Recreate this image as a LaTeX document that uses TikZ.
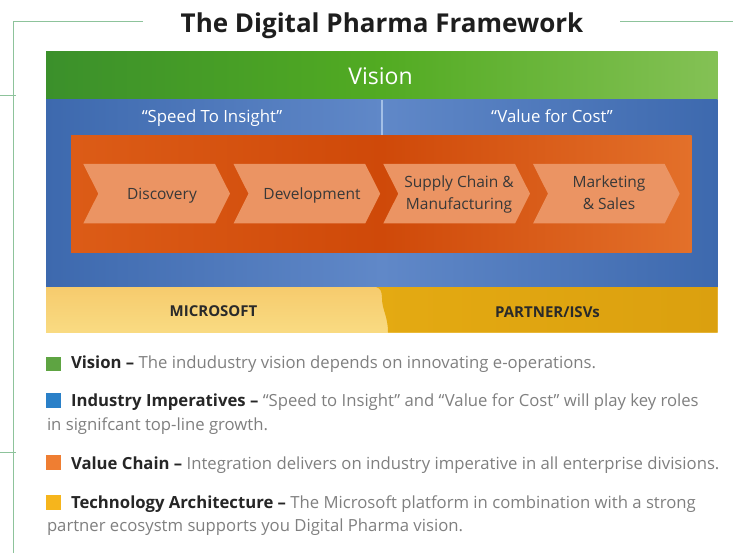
\documentclass[tikz,border=0pt]{standalone}
\usepackage{fontspec}
\setmainfont{Open Sans}
\usetikzlibrary{calc}

% palette
\definecolor{frameline}{HTML}{8DC39B}
\definecolor{titleink}{HTML}{1E1E1E}
\definecolor{greenL}{HTML}{3B902B}
\definecolor{greenM}{HTML}{52AB22}
\definecolor{greenR}{HTML}{84C155}
\definecolor{blueE}{HTML}{3D69AE}
\definecolor{blueM}{HTML}{6088C8}
\definecolor{divider}{HTML}{A3BFE6}
\definecolor{orangeL}{HTML}{DC5C17}
\definecolor{orangeM}{HTML}{CF4909}
\definecolor{orangeR}{HTML}{E3702A}
\definecolor{chevfill}{HTML}{EB9463}
\definecolor{chevink}{HTML}{383838}
\definecolor{yellowT}{HTML}{F6CB6D}
\definecolor{yellowB}{HTML}{F9DB82}
\definecolor{goldL}{HTML}{E4AA12}
\definecolor{goldR}{HTML}{DBA00F}
\definecolor{barink}{HTML}{2A2A2A}
\definecolor{legdark}{HTML}{262626}
\definecolor{leggray}{HTML}{7F7F7F}
\definecolor{sqgreen}{HTML}{5EA442}
\definecolor{sqblue}{HTML}{2A80C8}
\definecolor{sqorange}{HTML}{EF7E32}
\definecolor{sqyellow}{HTML}{F6B51C}

\tikzset{
  txt/.style={inner sep=0pt, outer sep=0pt},
  chevtext/.style={txt, text=chevink, font=\fontsize{15.5}{22}\selectfont, align=center},
  bartext/.style={txt, text=barink, font=\fontsize{15}{18}\selectfont\bfseries},
  imptext/.style={txt, text=white, font=\fontsize{16.8}{18}\selectfont},
  legtext/.style={txt, anchor=base west, text=leggray, font=\fontsize{16.7}{22}\selectfont},
  legsq/.style={inner sep=0pt, minimum width=15pt, minimum height=14.5pt, draw=none},
}
\newcommand{\legkey}[1]{{\color{legdark}\bfseries #1}}
\newcommand{\chevron}[1]{%
  \fill[chevfill] (#1,164) -- ++(131.7,0) -- ++(15,29.7) -- ++(-15,29.8)
    -- ++(-131.7,0) -- ++(15,-29.8) -- cycle;}

\begin{document}
\begin{tikzpicture}[x=1pt,y=-1pt]
\useasboundingbox (0,0) rectangle (733,553);

% thin green frame
\draw[frameline, line width=1pt] (143,21.7) -- (13.3,21.7) -- (13.3,553);
\draw[frameline, line width=1pt] (620,21.7) -- (733,21.7);
\draw[frameline, line width=1pt] (0,95.7) -- (15.7,95.7);
\draw[frameline, line width=1pt] (0,452.3) -- (15.7,452.3);

% title
\node[txt, anchor=base, text=titleink, font=\fontsize{26}{30}\selectfont\bfseries]
  (title) at (382,32.3) {The Digital Pharma Framework};

% vision band
\shade[left color=greenL, right color=greenR, middle color=greenM] (46,52) rectangle (717.5,100);
% imperatives band
\shade[left color=blueE, right color=blueE, middle color=blueM] (46,100) rectangle (717.5,287);
\draw[divider, line width=2.5pt] (382,100) -- (382,135.5);
% value chain panel
\shade[left color=orangeL, right color=orangeR, middle color=orangeM] (71,135.5) rectangle (691.7,253);
\chevron{83.3}
\chevron{233.5}
\chevron{383.3}
\chevron{533}

% technology band
\shade[top color=yellowT, bottom color=yellowB] (46,287) rectangle (717.5,332.5);
\shade[left color=goldL, right color=goldR]
  (376,287) -- (717.5,287) -- (717.5,332.5) -- (388,332.5)
  .. controls (388,316) and (382,310) .. (382,298)
  .. controls (382,291) and (380,288) .. (376,287) -- cycle;

% band labels
\node[txt, anchor=base, text=white, font=\fontsize{23}{26}\selectfont] (vision) at (380.5,84.3) {Vision};
\node[imptext, anchor=base] (speed) at (212,122.3) {“Speed To Insight”};
\node[imptext, anchor=base] (value) at (552,122.3) {“Value for Cost”};
\node[chevtext, anchor=base] (discovery) at (162,199.3) {Discovery};
\node[chevtext, anchor=base] (development) at (312,199.3) {Development};
% the base of a two-line label is the baseline of its last line
\node[chevtext, anchor=base] (supply) at (459,209.3) {Supply Chain \&\\Manufacturing};
\node[chevtext, anchor=base] (marketing) at (609,209.3) {Marketing\\\& Sales};
\node[bartext, anchor=base] (microsoft) at (213.5,316.7) {MICROSOFT};
\node[bartext, anchor=base] (partner) at (547.5,317.5) {PARTNER/ISVs};

% legend
\node[legsq, fill=sqgreen]  (keyvision) at (53.5,363.8) {};
\node[legsq, fill=sqblue]   (keyimp)    at (53.5,400.5) {};
\node[legsq, fill=sqorange] (keychain)  at (53.5,462.3) {};
\node[legsq, fill=sqyellow] (keytech)   at (53.5,502.5) {};

\node[legtext] (legvision) at (71,368.3)
  {\legkey{Vision –} The indudustry vision depends on innovating e-operations.};
\node[legtext] (legimp) at (71,406.7)
  {\legkey{Industry Imperatives –} “Speed to Insight” and “Value for Cost” will play key roles};
\node[legtext] (legimp2) at (47,430)
  {in signifcant top-line growth.};
\node[legtext] (legchain) at (71,469)
  {\legkey{Value Chain –} Integration delivers on industry imperative in all enterprise divisions.};
\node[legtext] (legtech) at (71,508.3)
  {\legkey{Technology Architecture –} The Microsoft platform in combination with a strong};
\node[legtext] (legtech2) at (47,531.7)
  {partner ecosystm supports you Digital Pharma vision.};
\end{tikzpicture}
\end{document}
